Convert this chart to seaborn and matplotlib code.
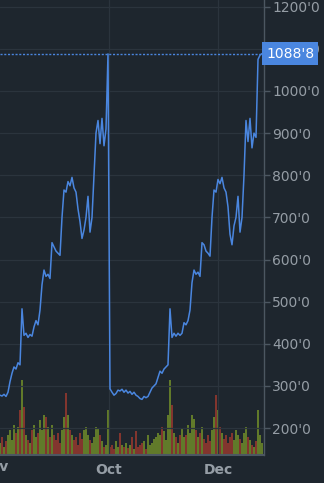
import numpy as np
import pandas as pd
import matplotlib
matplotlib.use("Agg")
import matplotlib.pyplot as plt
import matplotlib.transforms as mtransforms
import seaborn as sns

# ---- data (sampled every ~2 px of the reference) ----
price = [
    278, 276, 280, 275, 285, 310, 330, 345, 340, 355, 350, 483, 420, 425, 415, 422,
    418, 440, 455, 445, 480, 540, 575, 560, 565, 555, 640, 630, 620, 615, 610, 700,
    765, 760, 785, 775, 795, 770, 760, 720, 690, 650, 670, 700, 750, 665, 700, 800,
    900, 930, 875, 935, 870, 910, 1088,
    293, 285, 278, 282, 290, 288, 292, 285, 290, 283, 287, 280, 285, 278, 275, 270,
    268, 275, 272, 275, 285, 295, 300, 305, 320, 335, 330, 340, 345, 350, 483, 415,
    425, 418, 425, 420, 425, 450, 445, 455, 480, 545, 575, 565, 570, 560, 640, 635,
    620, 615, 608, 700, 765, 760, 790, 780, 795, 770, 760, 725, 660, 635, 680, 700,
    750, 665, 700, 800, 930, 880, 935, 865, 900, 890, 1075, 1085, 1088.8,
]
volume = [
    12, 18, 8, 14, 20, 25, 15, 30, 22, 28, 45, 75, 48, 20, 15, 12,
    25, 30, 18, 22, 35, 25, 40, 38, 28, 18, 30, 20, 15, 22, 12, 25,
    38, 62, 40, 25, 20, 15, 18, 10, 22, 16, 25, 28, 20, 15, 12, 18,
    28, 26, 20, 14, 8, 10, 45,
    8, 10, 6, 14, 8, 22, 10, 8, 12, 7, 10, 18, 6, 24, 8, 10,
    12, 14, 6, 20, 10, 12, 16, 18, 22, 20, 28, 24, 15, 40, 75, 50,
    22, 18, 12, 20, 26, 18, 20, 30, 22, 40, 36, 25, 18, 22, 28, 16,
    12, 20, 14, 25, 38, 60, 45, 28, 22, 16, 20, 12, 18, 22, 15, 25,
    20, 16, 12, 22, 28, 18, 15, 10, 8, 14, 45, 20, 12,
]
n = min(len(price), len(volume))
price = price[:n]
volume = volume[:n]
last_price = 1088.8
last_label = "1088'8"
y_ticks = [200, 300, 400, 500, 600, 700, 800, 900, 1000, 1100, 1200]
y_tick_labels = ["200'0", "300'0", "400'0", "500'0", "600'0", "700'0",
                 "800'0", "900'0", "1000'0", "1100'0", "1200'0"]
x_tick_pos = [54.3, 109]
x_tick_labels = ["Oct", "Dec"]
cut_label_pos = -3.2
cut_label = "Nov"

df = pd.DataFrame({"i": np.arange(n), "price": price, "volume": volume})
up = np.r_[True, np.diff(df["price"].values) >= 0]

BG = "#1e262e"
GRID = "#2b343d"
SPINE = "#4c5761"
TXT = "#959da5"
BLUE = "#4a86df"

sns.set_theme(style="dark", rc={"axes.facecolor": BG, "figure.facecolor": BG})
plt.rcParams["font.family"] = ["DejaVu Sans"]

fig = plt.figure(figsize=(3.24, 4.83), dpi=100)
ax = fig.add_axes([0.0, 28 / 483, 264 / 324, 455 / 483])
ax.set_facecolor(BG)

# volume on hidden twin axis
ax2 = ax.twinx()
ax2.set_ylim(0, 455)
ax2.bar(df["i"][up], df["volume"][up], width=0.85, color="#6e8a2a", alpha=0.85, linewidth=0)
ax2.bar(df["i"][~up], df["volume"][~up], width=0.85, color="#94382e", alpha=0.85, linewidth=0)
ax2.set_yticks([])
for s in ax2.spines.values():
    s.set_visible(False)
ax2.set_zorder(1)
ax.set_zorder(2)
ax.patch.set_visible(False)
fig.patch.set_facecolor(BG)

sns.lineplot(data=df, x="i", y="price", ax=ax, color=BLUE, linewidth=1.1)
ax.axhline(last_price, color=BLUE, lw=1.0, ls=(0, (1.5, 1.2)))

ax.set_xlim(0, 132)
ax.set_ylim(136, 1216)
ax.yaxis.tick_right()
ax.set_yticks(y_ticks)
ax.set_yticklabels(y_tick_labels)
ax.set_xticks(x_tick_pos)
ax.set_xticklabels(x_tick_labels)
ax.tick_params(axis="y", colors=SPINE, labelcolor=TXT, labelsize=10, length=4, width=1, pad=2)
ax.tick_params(axis="x", colors=SPINE, labelcolor=TXT, labelsize=10, length=3, width=1, pad=3)
for lab in ax.get_xticklabels():
    lab.set_fontweight("bold")
ax.set_xlabel("")
ax.set_ylabel("")
ax.grid(True, color=GRID, lw=0.9)
for k in ["top", "left"]:
    ax.spines[k].set_visible(False)
ax.spines["right"].set_color(SPINE)
ax.spines["bottom"].set_color(SPINE)
ax.spines["right"].set_linewidth(1.0)
ax.spines["bottom"].set_linewidth(1.5)

trans = mtransforms.blended_transform_factory(ax.transData, ax.transAxes)
ax.text(cut_label_pos, -0.012, cut_label, transform=trans, ha="center", va="top",
        color=TXT, fontsize=10, fontweight="bold", clip_on=False)

trans_y = mtransforms.blended_transform_factory(ax.transAxes, ax.transData)
ax.text(1.0 + 2 / 264, last_price, last_label, transform=trans_y, ha="left", va="center",
        color="white", fontsize=10, zorder=10,
        bbox=dict(boxstyle="square,pad=0.3", fc=BLUE, ec="none"))

fig.savefig("out.png", dpi=100, facecolor=BG)
